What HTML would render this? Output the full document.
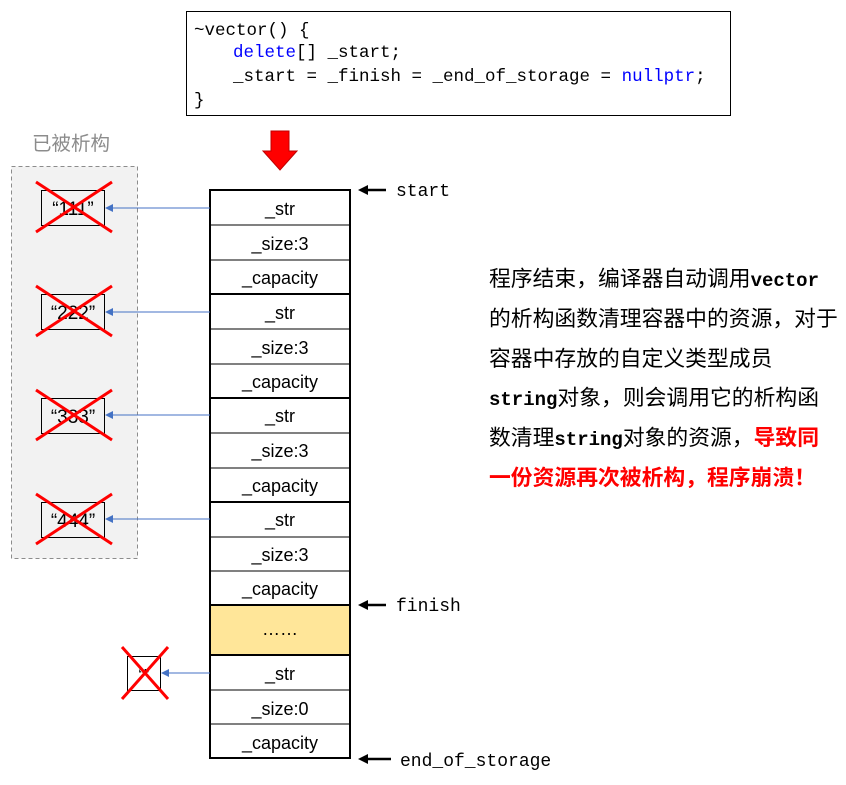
<!DOCTYPE html>
<html><head><meta charset="utf-8"><style>
body{margin:0;background:#fff;}
svg text{font-family:"Liberation Sans","Noto Sans CJK SC",sans-serif;}
.m{font-family:"Liberation Mono","DejaVu Sans Mono",monospace;}
</style></head><body>
<svg width="846" height="780" viewBox="0 0 846 780" xmlns="http://www.w3.org/2000/svg">
<defs>
<marker id="ba" markerWidth="8" markerHeight="8" refX="7" refY="4" orient="auto" markerUnits="userSpaceOnUse"><path d="M8,0 L0,4 L8,8 z" fill="#4472c4" transform="rotate(180 4 4)"/></marker>
</defs>
<rect x="186.5" y="11.5" width="544" height="104" fill="#fff" stroke="#000" stroke-width="1"/>
<g class="m" font-size="17.5">
<text x="194" y="35" class="m">~vector() {</text>
<text x="233" y="57" class="m"><tspan fill="#0000ff">delete</tspan>[] _start;</text>
<text x="233" y="81" class="m">_start = _finish = _end_of_storage = <tspan fill="#0000ff">nullptr</tspan>;</text>
<text x="194" y="105" class="m">}</text>
</g>
<path d="M271,131 H289 V151 H297 L280,170 L263,151 H271 Z" fill="#ff0000" stroke="#c00000" stroke-width="1"/>
<text x="32" y="150" font-size="19.5" fill="#8c8c8c">已被析构</text>
<rect x="11.5" y="166.5" width="126" height="392" fill="#f2f2f2" stroke="#8c8c8c" stroke-dasharray="4,3"/>
<rect x="210" y="605" width="140" height="50" fill="#ffe699"/>
<g stroke="#000" stroke-width="1">
<line x1="210" y1="225" x2="350" y2="225"/><line x1="210" y1="260" x2="350" y2="260"/>
<line x1="210" y1="329" x2="350" y2="329"/><line x1="210" y1="364" x2="350" y2="364"/>
<line x1="210" y1="433" x2="350" y2="433"/><line x1="210" y1="468" x2="350" y2="468"/>
<line x1="210" y1="537" x2="350" y2="537"/><line x1="210" y1="571" x2="350" y2="571"/>
<line x1="210" y1="690" x2="350" y2="690"/><line x1="210" y1="724" x2="350" y2="724"/>
</g>
<g stroke="#000" stroke-width="2" fill="none">
<rect x="210" y="190" width="140" height="568"/>
<line x1="210" y1="294" x2="350" y2="294"/><line x1="210" y1="398" x2="350" y2="398"/>
<line x1="210" y1="502" x2="350" y2="502"/><line x1="210" y1="605" x2="350" y2="605"/>
<line x1="210" y1="655" x2="350" y2="655"/>
</g>
<g font-size="18" text-anchor="middle">
<text x="280" y="215">_str</text><text x="280" y="250">_size:3</text><text x="280" y="284">_capacity</text>
<text x="280" y="319">_str</text><text x="280" y="354">_size:3</text><text x="280" y="388">_capacity</text>
<text x="280" y="422">_str</text><text x="280" y="457">_size:3</text><text x="280" y="492">_capacity</text>
<text x="280" y="526">_str</text><text x="280" y="561">_size:3</text><text x="280" y="595">_capacity</text>
<text x="280" y="635">……</text>
<text x="280" y="680">_str</text><text x="280" y="715">_size:0</text><text x="280" y="749">_capacity</text>
</g>
<g font-size="19" text-anchor="middle">
<rect x="41.5" y="190.5" width="63" height="35" fill="none" stroke="#000"/><text x="73" y="215">“111”</text>
<rect x="41.5" y="294.5" width="63" height="35" fill="none" stroke="#000"/><text x="73" y="319">“222”</text>
<rect x="41.5" y="398.5" width="63" height="35" fill="none" stroke="#000"/><text x="73" y="423">“333”</text>
<rect x="41.5" y="502.5" width="63" height="35" fill="none" stroke="#000"/><text x="73" y="527">“444”</text>
<rect x="127.5" y="656.5" width="33" height="34" fill="none" stroke="#000"/><text x="144" y="680" font-size="16">“”</text>
</g>
<g stroke="#ff0000" stroke-width="3">
<line x1="36" y1="182" x2="112" y2="232"/><line x1="112" y1="182" x2="36" y2="232"/>
<line x1="36" y1="286" x2="112" y2="336"/><line x1="112" y1="286" x2="36" y2="336"/>
<line x1="36" y1="390" x2="112" y2="440"/><line x1="112" y1="390" x2="36" y2="440"/>
<line x1="36" y1="494" x2="112" y2="544"/><line x1="112" y1="494" x2="36" y2="544"/>
<line x1="122" y1="647" x2="168" y2="699"/><line x1="168" y1="647" x2="122" y2="699"/>
</g>
<g stroke="#4472c4" stroke-width="1" marker-end="url(#ba)">
<line x1="210" y1="208" x2="106" y2="208"/><line x1="210" y1="312" x2="106" y2="312"/>
<line x1="210" y1="415" x2="106" y2="415"/><line x1="210" y1="519" x2="106" y2="519"/>
<line x1="210" y1="673" x2="162" y2="673"/>
</g>
<g stroke="#000" stroke-width="2.5"><line x1="366" y1="190" x2="386" y2="190"/><line x1="366" y1="605" x2="386" y2="605"/><line x1="366" y1="759" x2="391" y2="759"/></g>
<g fill="#000"><path d="M358,190 L368,185 L368,195 Z"/><path d="M358,605 L368,600 L368,610 Z"/><path d="M358,759 L368,754 L368,764 Z"/></g>
<g font-size="18" class="m">
<text x="396" y="196" class="m">start</text><text x="396" y="611" class="m">finish</text><text x="400" y="766" class="m">end_of_storage</text>
</g>
<g font-size="21.8">
<text x="489" y="286">程序结束，编译器自动调用<tspan class="m" font-weight="bold" font-size="19">vector</tspan></text>
<text x="489" y="326">的析构函数清理容器中的资源，对于</text>
<text x="489" y="366">容器中存放的自定义类型成员</text>
<text x="489" y="405"><tspan class="m" font-weight="bold" font-size="19">string</tspan>对象，则会调用它的析构函</text>
<text x="489" y="445">数清理<tspan class="m" font-weight="bold" font-size="19">string</tspan>对象的资源，<tspan fill="#ff0000" font-weight="bold">导致同</tspan></text>
<text x="489" y="485" fill="#ff0000" font-weight="bold">一份资源再次被析构，程序崩溃！</text>
</g>
</svg>
</body></html>
